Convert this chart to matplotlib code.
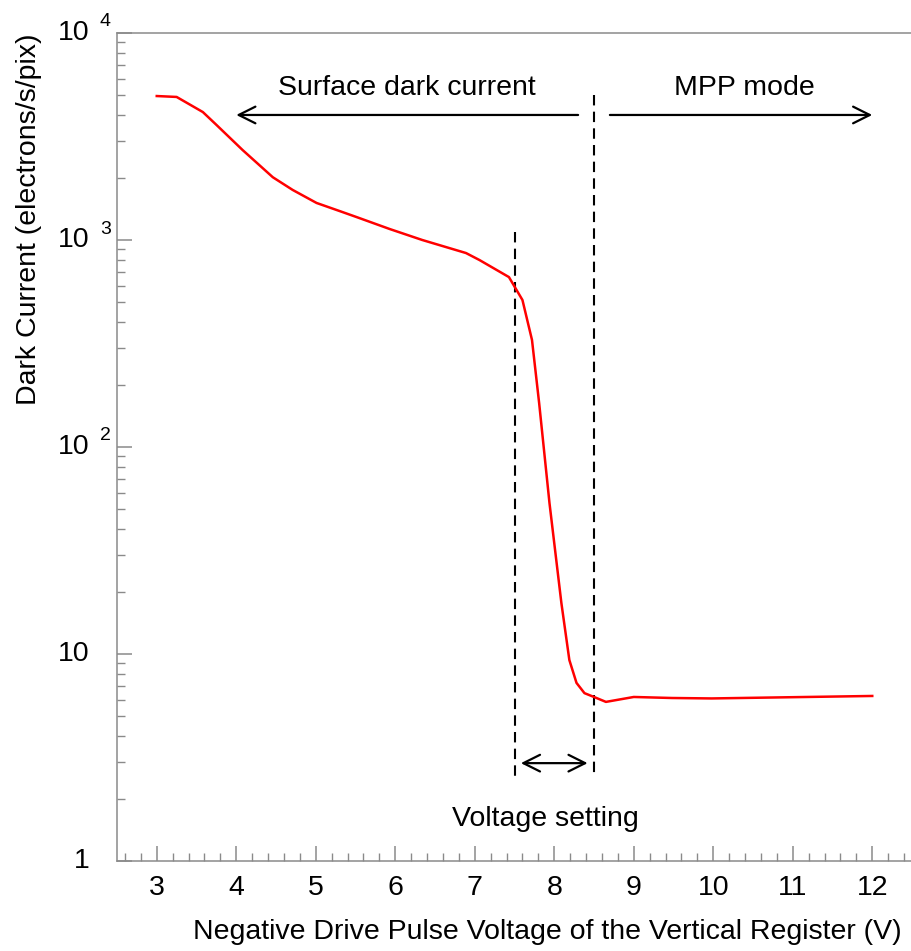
import matplotlib
matplotlib.use("Agg")
import matplotlib.pyplot as plt
import numpy as np
from matplotlib.ticker import MultipleLocator, LogLocator, NullFormatter
import matplotlib.transforms as mtransforms

plt.rcParams['font.family'] = ['Liberation Sans', 'DejaVu Sans']

# Data
voltage = [3.0, 3.25, 3.58, 3.75, 4.08, 4.46, 4.71, 5.01, 5.30, 5.51, 5.93, 6.34,
           6.89, 7.06, 7.43, 7.60, 7.72, 7.81, 7.94, 8.09, 8.19, 8.28, 8.38,
           8.50, 8.65, 9.0, 9.48, 9.98, 12.0]
dark_current = [4960, 4910, 4150, 3600, 2720, 2010, 1745, 1510, 1380, 1292, 1130, 1000,
                865, 800, 662, 513, 329, 163, 53.6, 17.6, 9.35, 7.25, 6.47,
                6.2, 5.87, 6.2, 6.13, 6.1, 6.27]

xtick_values = [3, 4, 5, 6, 7, 8, 9, 10, 11, 12]
ytick_values = [1, 10, 100, 1000, 10000]
ytick_bases = ['1', '10', '10', '10', '10']
ytick_exps = ['', '', '2', '3', '4']

xlabel = "Negative Drive Pulse Voltage of the Vertical Register (V)"
ylabel = "Dark Current (electrons/s/pix)"

FS = 20.5

fig = plt.figure(figsize=(9.12, 9.51), dpi=100)
W, H = 912, 951
ax = fig.add_axes([117 / W, (H - 861) / H, (W - 117) / W, (861 - 33) / H])

ax.plot(voltage, dark_current, color='#ff0000', lw=1.8, zorder=3)

ax.set_yscale('log')
ax.set_xlim(2.5, 12.5)
ax.set_ylim(1, 1e4)

spine_c = '#8a8a8a'
for s in ['left', 'bottom', 'top']:
    ax.spines[s].set_color(spine_c)
    ax.spines[s].set_linewidth(1.1)
ax.spines['right'].set_visible(False)

ax.set_xticks(xtick_values)
ax.xaxis.set_minor_locator(MultipleLocator(0.2))
ax.yaxis.set_major_locator(LogLocator(base=10))
ax.yaxis.set_minor_locator(LogLocator(base=10, subs=np.arange(2, 10)))
ax.yaxis.set_major_formatter(NullFormatter())
ax.yaxis.set_minor_formatter(NullFormatter())

ax.tick_params(axis='both', which='major', direction='in', length=11, width=1.1,
               color=spine_c, labelsize=FS, top=False, right=False)
ax.tick_params(axis='both', which='minor', direction='in', length=6, width=1.0,
               color=spine_c, top=False, right=False)
ax.tick_params(axis='x', which='major', pad=10)

# y tick labels with separated superscripts
ytrans = mtransforms.blended_transform_factory(fig.transFigure, ax.transData)
for v, b, e in zip(ytick_values, ytick_bases, ytick_exps):
    ax.text(90 / W, v, b, transform=ytrans, ha='right', va='center', fontsize=FS)
    if e:
        t = ax.text(100 / W, v, e, transform=ytrans, ha='left', va='center', fontsize=14)
        t.set_transform(ytrans + mtransforms.ScaledTranslation(0, 11 / 100, fig.dpi_scale_trans))

ax.set_xlabel(xlabel, fontsize=FS)
ax.xaxis.set_label_coords((547 - 117) / (W - 117), (861 - 919) / 828)
ax.xaxis.label.set_va('top')
ax.set_ylabel(ylabel, fontsize=FS)
ax.yaxis.set_label_coords((42 - 117) / (W - 117), (861 - 219) / 828)

# dashed vertical lines
ax.plot([7.5, 7.5], [1094, 2.52], ls=(0, (5, 3)), color='black', lw=1.5)
ax.plot([8.5, 8.5], [5010, 2.52], ls=(0, (5, 3)), color='black', lw=1.5)

arrow_kw = dict(arrowstyle='->', lw=1.6, color='black', mutation_scale=30,
                shrinkA=0, shrinkB=0)
ax.annotate('', xy=(4.0, 4018), xytext=(8.3, 4018), arrowprops=arrow_kw)
ax.annotate('', xy=(12.0, 4018), xytext=(8.7, 4018), arrowprops=arrow_kw)
dbl_kw = dict(arrow_kw)
dbl_kw['arrowstyle'] = '<->'
ax.annotate('', xy=(8.42, 2.97), xytext=(7.58, 2.97), arrowprops=dbl_kw)

ax.text(6.14, 5015, "Surface dark current", ha='center', va='baseline', fontsize=FS)
ax.text(10.39, 5015, "MPP mode", ha='center', va='baseline', fontsize=FS)
ax.text(7.89, 1.476, "Voltage setting", ha='center', va='baseline', fontsize=FS)

fig.savefig('out.png', dpi=100)
